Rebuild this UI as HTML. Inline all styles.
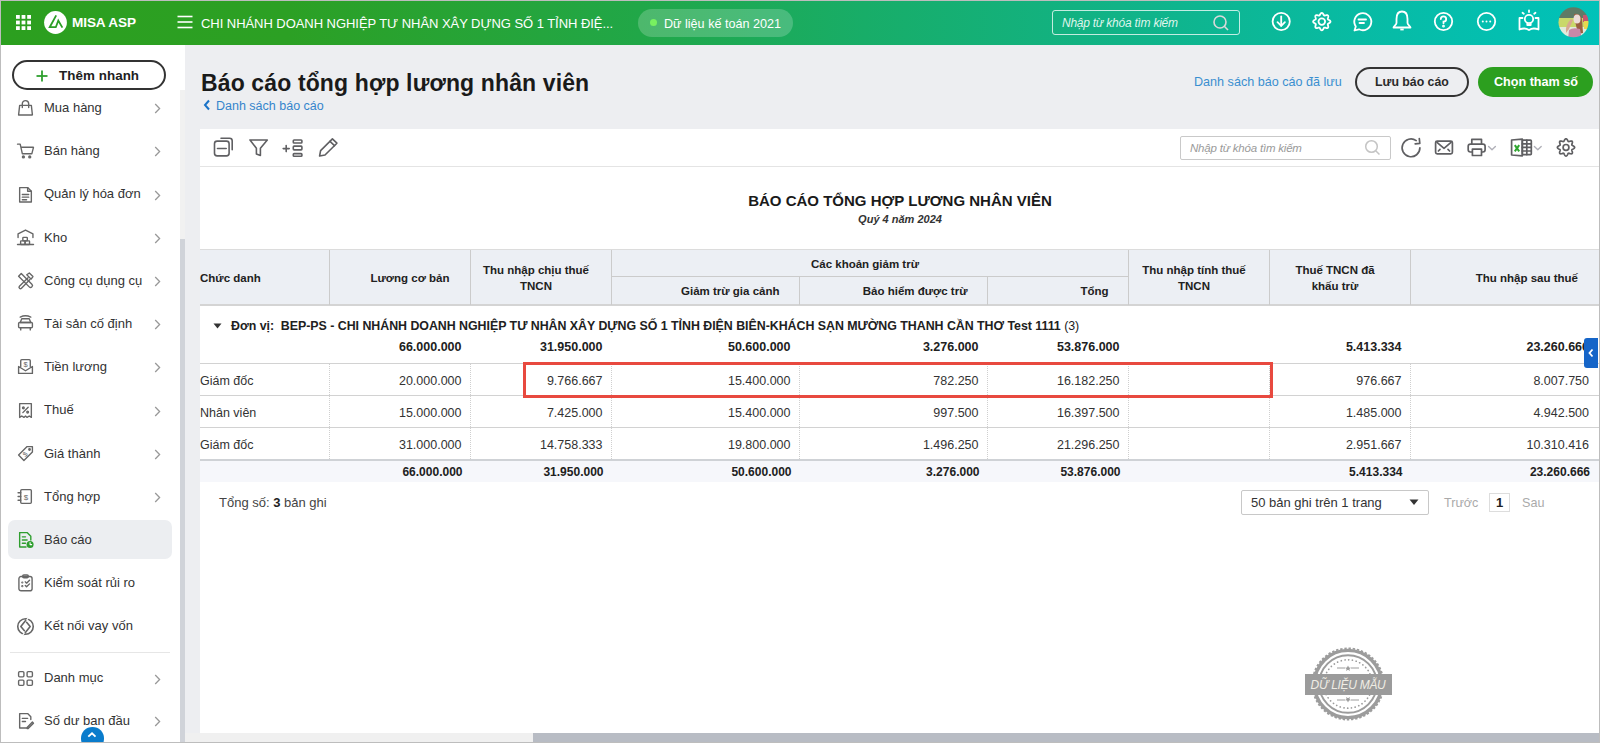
<!DOCTYPE html>
<html><head><meta charset="utf-8">
<style>
*{box-sizing:border-box;margin:0;padding:0}
html,body{width:1600px;height:743px;overflow:hidden;background:#fff;font-family:"Liberation Sans",sans-serif;color:#212121}
.a{position:absolute}
#frame{position:absolute;left:0;top:0;width:1600px;height:743px;overflow:hidden;background:#edeef1}
#bd{position:absolute;left:0;top:0;width:1600px;height:743px;border:1px solid #bdbdbd}
#frame>div,#frame>svg{overflow:visible}
#hdr{left:0;top:0;width:1600px;height:45px;background:linear-gradient(90deg,#2c9f1f 0%,#2ca024 18%,#21a748 40%,#18ad68 54%,#11b387 70%,#08bba4 85%,#00c2b9 100%)}
#side{left:0;top:45px;width:185px;height:698px;background:#fff}
.nt{white-space:nowrap}
svg{overflow:visible}
</style></head>
<body>
<div id="frame">
  <!-- HEADER -->
  <div id="hdr" class="a">
    <svg class="a" style="left:15px;top:14px" width="16" height="16" viewBox="0 0 16 16" fill="#fff">
      <rect x="1" y="1" width="3.8" height="3.8"/><rect x="6.6" y="1" width="3.8" height="3.8"/><rect x="12.2" y="1" width="3.8" height="3.8"/>
      <rect x="1" y="6.6" width="3.8" height="3.8"/><rect x="6.6" y="6.6" width="3.8" height="3.8"/><rect x="12.2" y="6.6" width="3.8" height="3.8"/>
      <rect x="1" y="12.2" width="3.8" height="3.8"/><rect x="6.6" y="12.2" width="3.8" height="3.8"/><rect x="12.2" y="12.2" width="3.8" height="3.8"/>
    </svg>
    <svg class="a" style="left:43px;top:10px" width="25" height="25" viewBox="0 0 25 25">
      <circle cx="12.5" cy="12.5" r="11.4" fill="#fff"/>
      <polyline points="13.2,5.4 6.7,17.2 12.8,17.2 15.3,10.6 19.4,17.6" fill="none" stroke="#2c9f26" stroke-width="1.8" stroke-linejoin="miter"/>
    </svg>
    <div class="a nt" style="left:72px;top:15px;font-size:13.6px;font-weight:bold;color:#fff;line-height:16px;letter-spacing:-0.1px">MISA ASP</div>
    <svg class="a" style="left:177px;top:15px" width="16" height="14" viewBox="0 0 16 14" stroke="#fff" stroke-width="1.6">
      <line x1="0.5" y1="1.5" x2="15.5" y2="1.5"/><line x1="0.5" y1="7" x2="15.5" y2="7"/><line x1="0.5" y1="12.5" x2="15.5" y2="12.5"/>
    </svg>
    <div class="a nt" style="left:201px;top:16px;font-size:13px;color:#fff;line-height:16px;letter-spacing:-0.05px">CHI NHÁNH DOANH NGHIỆP TƯ NHÂN XÂY DỰNG SỐ 1 TỈNH ĐIỆ...</div>
    <div class="a" style="left:638px;top:9px;width:155px;height:28px;border-radius:14px;background:rgba(255,255,255,0.2)"></div>
    <div class="a" style="left:649.5px;top:18.6px;width:7.6px;height:7.6px;border-radius:50%;background:#78f060"></div>
    <div class="a nt" style="left:664px;top:15.7px;font-size:12.6px;color:#fff;line-height:16px">Dữ liệu kế toán 2021</div>
    <div class="a" style="left:1052px;top:10px;width:188px;height:25px;border:1px solid rgba(255,255,255,0.75);border-radius:3px"></div>
    <div class="a nt" style="left:1062px;top:15px;font-size:12px;font-style:italic;color:#dff5ec;line-height:16px;letter-spacing:-0.25px">Nhập từ khóa tìm kiếm</div>
    <svg class="a" style="left:1212px;top:14px" width="18" height="18" viewBox="0 0 18 18" fill="none" stroke="#d9d9d9" stroke-width="1.6">
      <circle cx="8" cy="8" r="6"/><line x1="12.3" y1="12.3" x2="16" y2="16"/>
    </svg>
    <!-- icons -->
    <svg class="a" style="left:1271px;top:11px" width="21" height="21" viewBox="0 0 21 21" fill="none" stroke="#fff" stroke-width="1.8" stroke-linecap="round" stroke-linejoin="round">
      <circle cx="10.2" cy="10.5" r="8.6"/><line x1="10.2" y1="5.5" x2="10.2" y2="14.8"/><polyline points="6.5,11.2 10.2,14.8 13.9,11.2"/>
    </svg>
    <svg class="a" style="left:1311px;top:11px" width="22" height="22" viewBox="0 0 22 22" fill="none" stroke="#fff" stroke-width="1.8" stroke-linejoin="round">
      <path d="M19.50,10.60 L19.39,11.05 L19.09,11.47 L18.64,11.84 L18.12,12.16 L17.61,12.42 L17.18,12.67 L16.89,12.94 L16.76,13.25 L16.78,13.65 L16.91,14.12 L17.08,14.68 L17.22,15.27 L17.28,15.85 L17.19,16.36 L16.95,16.75 L16.56,16.99 L16.05,17.08 L15.47,17.02 L14.88,16.88 L14.33,16.71 L13.85,16.58 L13.45,16.56 L13.14,16.69 L12.87,16.98 L12.62,17.41 L12.36,17.92 L12.04,18.44 L11.67,18.89 L11.25,19.19 L10.80,19.30 L10.35,19.19 L9.93,18.89 L9.56,18.44 L9.24,17.92 L8.98,17.41 L8.73,16.98 L8.46,16.69 L8.15,16.56 L7.75,16.58 L7.28,16.71 L6.72,16.88 L6.13,17.02 L5.55,17.08 L5.04,16.99 L4.65,16.75 L4.41,16.36 L4.32,15.85 L4.38,15.27 L4.52,14.68 L4.69,14.12 L4.82,13.65 L4.84,13.25 L4.71,12.94 L4.42,12.67 L3.99,12.42 L3.48,12.16 L2.96,11.84 L2.51,11.47 L2.21,11.05 L2.10,10.60 L2.21,10.15 L2.51,9.73 L2.96,9.36 L3.48,9.04 L3.99,8.78 L4.42,8.53 L4.71,8.26 L4.84,7.95 L4.82,7.55 L4.69,7.08 L4.52,6.52 L4.38,5.93 L4.32,5.35 L4.41,4.84 L4.65,4.45 L5.04,4.21 L5.55,4.12 L6.13,4.18 L6.72,4.32 L7.27,4.49 L7.75,4.62 L8.15,4.64 L8.46,4.51 L8.73,4.22 L8.98,3.79 L9.24,3.28 L9.56,2.76 L9.93,2.31 L10.35,2.01 L10.80,1.90 L11.25,2.01 L11.67,2.31 L12.04,2.76 L12.36,3.28 L12.62,3.79 L12.87,4.22 L13.14,4.51 L13.45,4.64 L13.85,4.62 L14.33,4.49 L14.88,4.32 L15.47,4.18 L16.05,4.12 L16.56,4.21 L16.95,4.45 L17.19,4.84 L17.28,5.35 L17.22,5.93 L17.08,6.52 L16.91,7.08 L16.78,7.55 L16.76,7.95 L16.89,8.26 L17.18,8.53 L17.61,8.78 L18.12,9.04 L18.64,9.36 L19.09,9.73 L19.39,10.15 Z"/>
      <circle cx="10.8" cy="10.6" r="3.3"/>
    </svg>
    <svg class="a" style="left:1352px;top:11px" width="21" height="22" viewBox="0 0 21 22" fill="none" stroke="#fff" stroke-width="1.8" stroke-linecap="round" stroke-linejoin="round">
      <path d="M2.5 19.5 L3.8 15.5 A8.5 8.5 0 1 1 7 18.3 Z"/><line x1="6.5" y1="8.5" x2="14" y2="8.5"/><line x1="7.5" y1="12" x2="12" y2="12"/>
    </svg>
    <svg class="a" style="left:1392px;top:10px" width="20" height="22" viewBox="0 0 20 22" fill="none" stroke="#fff" stroke-width="1.8" stroke-linejoin="round">
      <path d="M10 1.5 C5.5 1.5 4.5 5.5 4.5 9 L4.5 13 C4.5 15 1.5 16 1.5 17.5 L18.5 17.5 C18.5 16 15.5 15 15.5 13 L15.5 9 C15.5 5.5 14.5 1.5 10 1.5 Z"/><path d="M8.3 19.5 L11.7 19.5"/>
    </svg>
    <svg class="a" style="left:1433px;top:11px" width="21" height="21" viewBox="0 0 21 21" fill="none" stroke="#fff" stroke-width="1.8" stroke-linecap="round">
      <circle cx="10.5" cy="10.5" r="8.7"/><path d="M7.8 8 A2.7 2.7 0 1 1 10.5 10.7 L10.5 12.3"/><circle cx="10.5" cy="15.2" r="0.5" fill="#fff"/>
    </svg>
    <svg class="a" style="left:1476px;top:11px" width="21" height="21" viewBox="0 0 21 21" fill="none" stroke="#fff" stroke-width="1.8">
      <circle cx="10.5" cy="10.5" r="8.7"/><circle cx="6.8" cy="10.5" r="1" fill="#fff" stroke="none"/><circle cx="10.5" cy="10.5" r="1" fill="#fff" stroke="none"/><circle cx="14.2" cy="10.5" r="1" fill="#fff" stroke="none"/>
    </svg>
    <svg class="a" style="left:1518px;top:9px" width="22" height="24" viewBox="0 0 22 24" fill="none" stroke="#fff" stroke-width="1.8" stroke-linecap="round" stroke-linejoin="round">
      <path d="M4.5 9 L1.5 9 L1.5 20.5 C5 19 8 19 11 21 C14 19 17 19 20.5 20.5 L20.5 9 L17.5 9"/>
      <circle cx="11" cy="10" r="4.2"/><path d="M9.3 14 L9.3 16 L12.7 16 L12.7 14"/>
      <line x1="11" y1="1.5" x2="11" y2="3"/><line x1="4.5" y1="3.8" x2="5.8" y2="4.8"/><line x1="17.5" y1="3.8" x2="16.2" y2="4.8"/>
    </svg>
    <svg class="a" style="left:1558px;top:7px" width="31" height="31" viewBox="0 0 31 31">
      <defs><clipPath id="av"><circle cx="15.5" cy="15.3" r="15"/></clipPath><filter id="bl"><feGaussianBlur stdDeviation="0.7"/></filter></defs>
      <g clip-path="url(#av)"><g filter="url(#bl)">
        <rect x="-2" y="-2" width="35" height="35" fill="#e6ece0"/>
        <rect x="-2" y="-2" width="35" height="14" fill="#5f7a66"/>
        <rect x="-2" y="11" width="35" height="11" fill="#c9d86a"/>
        <rect x="-2" y="20" width="35" height="13" fill="#e2eadc"/>
        <rect x="25" y="8" width="6" height="7" fill="#c4566e"/>
        <rect x="26" y="14" width="8" height="8" fill="#e8d850"/>
        <path d="M16 7 Q22 6 24 12 L25 26 L20 27 L17 14 Z" fill="#9a6040"/>
        <ellipse cx="19" cy="12" rx="3.5" ry="4.5" fill="#ecdcd8"/>
        <path d="M8 26 Q7 18 13 12 L15 13 L11 22 Z" fill="#d8a890"/>
        <path d="M11 23 Q15 20 22 22 L24 33 L10 33 Z" fill="#c888a8"/>
      </g></g>
    </svg>
  </div>
  <!-- SIDEBAR -->
  <div id="side" class="a">
    <div class="a" style="left:12px;top:15px;width:154px;height:30px;border:2px solid #333;border-radius:15px"></div>
    <svg class="a" style="left:36px;top:25px" width="12" height="12" viewBox="0 0 12 12" stroke="#2ea02e" stroke-width="1.8"><line x1="6" y1="0.5" x2="6" y2="11.5"/><line x1="0.5" y1="6" x2="11.5" y2="6"/></svg>
    <div class="a nt" style="left:59px;top:23px;font-size:13.4px;font-weight:bold;color:#212121;line-height:16px;letter-spacing:0.05px">Thêm nhanh</div>
    <div class="a" style="left:180px;top:45px;width:5px;height:653px;background:#f1f1f1"></div>
    <div class="a" style="left:180px;top:194px;width:5px;height:504px;background:#d0d3d9"></div>
    <svg class="a" style="left:17px;top:54.2px" width="17" height="17" viewBox="0 0 16 16" fill="none" stroke="#666" stroke-width="1.3" stroke-linecap="round" stroke-linejoin="round"><path d="M2.5 6 L13.5 6 L14.5 15 L1.5 15 Z"/><path d="M5 8 L5 4.5 A3 3 0 0 1 11 4.5 L11 8"/></svg>
    <div class="a nt" style="left:44px;top:55.0px;font-size:13px;color:#333;line-height:16px">Mua hàng</div>
    <svg class="a" style="left:153px;top:58.2px" width="8" height="11" viewBox="0 0 8 11" fill="none" stroke="#999" stroke-width="1.3"><polyline points="2.2,1 6.6,5.5 2.2,10"/></svg>
    <svg class="a" style="left:17px;top:97.4px" width="17" height="17" viewBox="0 0 16 16" fill="none" stroke="#666" stroke-width="1.3" stroke-linecap="round" stroke-linejoin="round"><path d="M0.5 2 L3 2 L5 11 L14 11 L15.5 5 L4 5"/><circle cx="6" cy="14" r="0.9" fill="#666"/><circle cx="12" cy="14" r="0.9" fill="#666"/></svg>
    <div class="a nt" style="left:44px;top:98.2px;font-size:13px;color:#333;line-height:16px">Bán hàng</div>
    <svg class="a" style="left:153px;top:101.4px" width="8" height="11" viewBox="0 0 8 11" fill="none" stroke="#999" stroke-width="1.3"><polyline points="2.2,1 6.6,5.5 2.2,10"/></svg>
    <svg class="a" style="left:17px;top:140.6px" width="17" height="17" viewBox="0 0 16 16" fill="none" stroke="#666" stroke-width="1.3" stroke-linecap="round" stroke-linejoin="round"><path d="M2.5 1.5 L10 1.5 L13.5 5 L13.5 15 L2.5 15 Z"/><path d="M10 1.5 L10 5 L13.5 5"/><line x1="5" y1="8" x2="11" y2="8"/><line x1="5" y1="10.5" x2="11" y2="10.5"/><line x1="5" y1="13" x2="9" y2="13"/></svg>
    <div class="a nt" style="left:44px;top:141.4px;font-size:13px;color:#333;line-height:16px">Quản lý hóa đơn</div>
    <svg class="a" style="left:153px;top:144.6px" width="8" height="11" viewBox="0 0 8 11" fill="none" stroke="#999" stroke-width="1.3"><polyline points="2.2,1 6.6,5.5 2.2,10"/></svg>
    <svg class="a" style="left:17px;top:183.8px" width="17" height="17" viewBox="0 0 16 16" fill="none" stroke="#666" stroke-width="1.3" stroke-linecap="round" stroke-linejoin="round"><path d="M1 8 L1 4.5 L8 1 L15 4.5 L15 8"/><line x1="0.5" y1="14.6" x2="15.5" y2="14.6"/><rect x="3.4" y="11.2" width="4.2" height="3.4" rx="0.5"/><rect x="7.6" y="11.2" width="4.2" height="3.4" rx="0.5"/><rect x="5.5" y="7.9" width="4.2" height="3.3" rx="0.5"/></svg>
    <div class="a nt" style="left:44px;top:184.6px;font-size:13px;color:#333;line-height:16px">Kho</div>
    <svg class="a" style="left:153px;top:187.8px" width="8" height="11" viewBox="0 0 8 11" fill="none" stroke="#999" stroke-width="1.3"><polyline points="2.2,1 6.6,5.5 2.2,10"/></svg>
    <svg class="a" style="left:17px;top:227.0px" width="17" height="17" viewBox="0 0 16 16" fill="none" stroke="#666" stroke-width="1.3" stroke-linecap="round" stroke-linejoin="round"><path d="M1.5 4 L4 1.5 L14 11.5 A1.7 1.7 0 0 1 11.5 14 Z"/><path d="M9.2 2.6 L11.6 0.9 L15 4.3 L13.3 6.7 Z"/><path d="M10.4 5.4 L2.3 13.4 A1.3 1.3 0 0 0 4.2 15.2 L12.2 7.1"/></svg>
    <div class="a nt" style="left:44px;top:227.8px;font-size:13px;color:#333;line-height:16px">Công cụ dụng cụ</div>
    <svg class="a" style="left:153px;top:231.0px" width="8" height="11" viewBox="0 0 8 11" fill="none" stroke="#999" stroke-width="1.3"><polyline points="2.2,1 6.6,5.5 2.2,10"/></svg>
    <svg class="a" style="left:17px;top:270.2px" width="17" height="17" viewBox="0 0 16 16" fill="none" stroke="#666" stroke-width="1.3" stroke-linecap="round" stroke-linejoin="round"><path d="M3 7 L4.5 3.5 L11.5 3.5 L13 7 Z"/><rect x="1.5" y="7" width="13" height="5" rx="1"/><line x1="3.5" y1="12" x2="3.5" y2="14"/><line x1="12.5" y1="12" x2="12.5" y2="14"/><path d="M3 2 Q8 -0.5 13 2"/></svg>
    <div class="a nt" style="left:44px;top:271.0px;font-size:13px;color:#333;line-height:16px">Tài sản cố định</div>
    <svg class="a" style="left:153px;top:274.2px" width="8" height="11" viewBox="0 0 8 11" fill="none" stroke="#999" stroke-width="1.3"><polyline points="2.2,1 6.6,5.5 2.2,10"/></svg>
    <svg class="a" style="left:17px;top:313.4px" width="17" height="17" viewBox="0 0 16 16" fill="none" stroke="#666" stroke-width="1.3" stroke-linecap="round" stroke-linejoin="round"><path d="M3.5 8 L3.5 2.5 A1 1 0 0 1 4.5 1.5 L11.5 1.5 A1 1 0 0 1 12.5 2.5 L12.5 8"/><path d="M1.5 8 L1.5 14.5 L14.5 14.5 L14.5 8 L8 12 Z"/><text x="8" y="8.2" font-size="7" font-family="Liberation Sans" text-anchor="middle" fill="#666" stroke="none">$</text></svg>
    <div class="a nt" style="left:44px;top:314.2px;font-size:13px;color:#333;line-height:16px">Tiền lương</div>
    <svg class="a" style="left:153px;top:317.4px" width="8" height="11" viewBox="0 0 8 11" fill="none" stroke="#999" stroke-width="1.3"><polyline points="2.2,1 6.6,5.5 2.2,10"/></svg>
    <svg class="a" style="left:17px;top:356.6px" width="17" height="17" viewBox="0 0 16 16" fill="none" stroke="#666" stroke-width="1.3" stroke-linecap="round" stroke-linejoin="round"><path d="M2.5 1.5 L13.5 1.5 L13.5 14.5 L11.5 13.2 L9.5 14.5 L8 13.2 L6.5 14.5 L4.5 13.2 L2.5 14.5 Z"/><line x1="5.5" y1="10" x2="10.5" y2="5"/><circle cx="6" cy="5.5" r="0.8"/><circle cx="10" cy="9.5" r="0.8"/></svg>
    <div class="a nt" style="left:44px;top:357.4px;font-size:13px;color:#333;line-height:16px">Thuế</div>
    <svg class="a" style="left:153px;top:360.6px" width="8" height="11" viewBox="0 0 8 11" fill="none" stroke="#999" stroke-width="1.3"><polyline points="2.2,1 6.6,5.5 2.2,10"/></svg>
    <svg class="a" style="left:17px;top:399.8px" width="17" height="17" viewBox="0 0 16 16" fill="none" stroke="#666" stroke-width="1.3" stroke-linecap="round" stroke-linejoin="round"><path d="M9.5 1.5 L14.5 1.5 L14.5 6.5 L6.5 14.5 L1.5 9.5 Z"/><circle cx="11.8" cy="4.2" r="0.7"/><text x="7.8" y="11" font-size="6.5" font-family="Liberation Sans" text-anchor="middle" fill="#666" stroke="none" transform="rotate(-45 7.8 8.8)">$</text></svg>
    <div class="a nt" style="left:44px;top:400.6px;font-size:13px;color:#333;line-height:16px">Giá thành</div>
    <svg class="a" style="left:153px;top:403.8px" width="8" height="11" viewBox="0 0 8 11" fill="none" stroke="#999" stroke-width="1.3"><polyline points="2.2,1 6.6,5.5 2.2,10"/></svg>
    <svg class="a" style="left:17px;top:443.0px" width="17" height="17" viewBox="0 0 16 16" fill="none" stroke="#666" stroke-width="1.3" stroke-linecap="round" stroke-linejoin="round"><rect x="3.5" y="1.5" width="10" height="13" rx="1"/><line x1="1" y1="4.5" x2="3.5" y2="4.5"/><line x1="1" y1="8" x2="3.5" y2="8"/><line x1="1" y1="11.5" x2="3.5" y2="11.5"/><text x="8.5" y="11" font-size="7.5" text-anchor="middle" fill="#666" stroke="none">$</text></svg>
    <div class="a nt" style="left:44px;top:443.8px;font-size:13px;color:#333;line-height:16px">Tổng hợp</div>
    <svg class="a" style="left:153px;top:447.0px" width="8" height="11" viewBox="0 0 8 11" fill="none" stroke="#999" stroke-width="1.3"><polyline points="2.2,1 6.6,5.5 2.2,10"/></svg>
    <div class="a" style="left:8px;top:475px;width:164px;height:39px;border-radius:7px;background:#eceef1"></div>
    <svg class="a" style="left:17px;top:486.2px" width="17" height="17" viewBox="0 0 16 16" fill="none" stroke="#666" stroke-width="1.3" stroke-linecap="round" stroke-linejoin="round"><path d="M2.5 1.5 L9.5 1.5 L13 5 L13 8.5" stroke="#2e9e2e"/><path d="M8.5 15 L2.5 15 L2.5 1.5" stroke="#2e9e2e"/><line x1="5" y1="5.5" x2="8" y2="5.5" stroke="#2e9e2e"/><line x1="5" y1="8.5" x2="9.5" y2="8.5" stroke="#2e9e2e"/><line x1="5" y1="11.5" x2="8" y2="11.5" stroke="#2e9e2e"/><circle cx="12.3" cy="12.6" r="3.3" fill="#2e9e2e" stroke="none"/><path d="M12.3 10.8 L12.3 12.8 L13.8 12.8" stroke="#fff" stroke-width="1"/></svg>
    <div class="a nt" style="left:44px;top:487.0px;font-size:13px;color:#333;line-height:16px">Báo cáo</div>
    <svg class="a" style="left:17px;top:529.4px" width="17" height="17" viewBox="0 0 16 16" fill="none" stroke="#666" stroke-width="1.3" stroke-linecap="round" stroke-linejoin="round"><rect x="1.8" y="2.4" width="12.4" height="13.4" rx="2"/><rect x="5.3" y="0.9" width="5.4" height="2.6" rx="1.2"/><path d="M7.8 7.4 L9 8.6 L11.8 5.8 M7.8 10.9 L9 12.1 L11.8 9.3"/><circle cx="5" cy="8" r="0.4"/><circle cx="5" cy="11.5" r="0.4"/></svg>
    <div class="a nt" style="left:44px;top:530.2px;font-size:13px;color:#333;line-height:16px">Kiểm soát rủi ro</div>
    <svg class="a" style="left:17px;top:572.6px" width="17" height="17" viewBox="0 0 16 16" fill="none" stroke="#666" stroke-width="1.3" stroke-linecap="round" stroke-linejoin="round"><circle cx="8" cy="8" r="7.3" stroke-width="1.5"/><path d="M9.6 0.5 L3.6 8 L7 12" stroke-width="1.5"/><path d="M9 4 L12.4 8 L6.4 15.5" stroke-width="1.5"/><path d="M9.2 1.8 L10.8 -0.4 M6.8 14.2 L5.2 16.4" stroke="#fff" stroke-width="1.2"/></svg>
    <div class="a nt" style="left:44px;top:573.4px;font-size:13px;color:#333;line-height:16px">Kết nối vay vốn</div>
    <svg class="a" style="left:17px;top:624.5px" width="17" height="17" viewBox="0 0 16 16" fill="none" stroke="#666" stroke-width="1.3" stroke-linecap="round" stroke-linejoin="round"><rect x="1.5" y="1.5" width="5" height="5" rx="1"/><rect x="9.5" y="1.5" width="5" height="5" rx="1"/><rect x="1.5" y="9.5" width="5" height="5" rx="1"/><rect x="9.5" y="9.5" width="5" height="5" rx="1"/></svg>
    <div class="a nt" style="left:44px;top:625.3px;font-size:13px;color:#333;line-height:16px">Danh mục</div>
    <svg class="a" style="left:153px;top:628.5px" width="8" height="11" viewBox="0 0 8 11" fill="none" stroke="#999" stroke-width="1.3"><polyline points="2.2,1 6.6,5.5 2.2,10"/></svg>
    <svg class="a" style="left:17px;top:667.2px" width="17" height="17" viewBox="0 0 16 16" fill="none" stroke="#666" stroke-width="1.3" stroke-linecap="round" stroke-linejoin="round"><path d="M9 15 L2.5 15 L2.5 1.5 L10 1.5 L13 4.5 L13 7"/><line x1="5" y1="6" x2="10" y2="6"/><line x1="5" y1="9" x2="8" y2="9"/><path d="M9.5 14.5 L14.5 9.5 L15.5 10.5 L10.5 15.5 L9.5 15.5 Z"/></svg>
    <div class="a nt" style="left:44px;top:668.0px;font-size:13px;color:#333;line-height:16px">Số dư ban đầu</div>
    <svg class="a" style="left:153px;top:671.2px" width="8" height="11" viewBox="0 0 8 11" fill="none" stroke="#999" stroke-width="1.3"><polyline points="2.2,1 6.6,5.5 2.2,10"/></svg>
    <div class="a" style="left:10px;top:607px;width:160px;height:1px;background:#e6e6e6"></div>
    <div class="a" style="left:81px;top:682px;width:22.6px;height:22.6px;border-radius:50%;background:#0a7ccc"></div>
    <svg class="a" style="left:86px;top:686px" width="12" height="8" viewBox="0 0 12 8" fill="none" stroke="#fff" stroke-width="1.9"><polyline points="2.3,5.6 6,2.3 9.5,5.6"/></svg>
  </div>
  <!-- MAIN -->
  <div class="a nt" style="left:201px;top:68.5px;font-size:23px;font-weight:bold;color:#1a1a1a;line-height:28px;letter-spacing:0.13px">Báo cáo tổng hợp lương nhân viên</div>
  <svg class="a" style="left:203px;top:99.3px" width="8" height="12" viewBox="0 0 8 12" fill="none" stroke="#1a73c8" stroke-width="2"><polyline points="6,1.5 2,6 6,10.5"/></svg>
  <div class="a nt" style="left:216px;top:98px;font-size:12.5px;color:#3585cc;line-height:16px">Danh sách báo cáo</div>
  <div class="a nt" style="left:1194px;top:74px;font-size:12.6px;color:#3a8fd0;line-height:16px">Danh sách báo cáo đã lưu</div>
  <div class="a" style="left:1355px;top:67px;width:114px;height:30px;border:2px solid #333;border-radius:15px"></div>
  <div class="a nt" style="left:1375px;top:74px;font-size:12.3px;font-weight:bold;color:#2a2a2a;line-height:16px">Lưu báo cáo</div>
  <div class="a" style="left:1478px;top:67px;width:115px;height:30px;border-radius:15px;background:#2c9f1f"></div>
  <div class="a nt" style="left:1494px;top:74px;font-size:12.6px;font-weight:bold;color:#fff;line-height:16px">Chọn tham số</div>
  <div class="a" style="left:200px;top:129px;width:1399px;height:604px;background:#fff"></div>
  <div class="a" style="left:200px;top:166px;width:1399px;height:1px;background:#e4e4e4"></div>
  <svg class="a" style="left:205px;top:130px" width="140" height="35" viewBox="0 0 140 35" fill="none" stroke="#5f5f62" stroke-width="1.6" stroke-linejoin="round" stroke-linecap="round">
    <rect x="9.5" y="11.1" width="14.6" height="14.8" rx="2.6"/><path d="M16 8.2 L24.6 8.2 A2.6 2.6 0 0 1 27.2 10.8 L27.2 19.8"/><line x1="12.5" y1="18.5" x2="21.2" y2="18.5"/>
    <path d="M45 10 L62.3 10 L55.4 18.2 L55.4 25.5 L51.4 24 L51.4 18.2 Z"/>
    <line x1="78.2" y1="18.6" x2="84.2" y2="18.6"/><line x1="81.2" y1="15.6" x2="81.2" y2="21.6"/>
    <rect x="88.3" y="10" width="8.6" height="3" rx="0.8"/><rect x="88.3" y="16.1" width="8.6" height="3.8" rx="0.8"/><rect x="88.3" y="23.6" width="8.6" height="2.6" rx="0.8"/>
    <path d="M114.6 26 L115.6 20.6 L127.4 8.9 L131.9 13.2 L120 25 Z"/><line x1="125" y1="11.3" x2="129.5" y2="15.6"/>
  </svg>
  <div class="a" style="left:1180px;top:136px;width:211px;height:24px;border:1px solid #c9c9c9;border-radius:2px"></div>
  <div class="a nt" style="left:1190px;top:140px;font-size:11.5px;font-style:italic;color:#9a9a9a;line-height:16px;letter-spacing:-0.2px">Nhập từ khóa tìm kiếm</div>
  <svg class="a" style="left:1364px;top:139px" width="18" height="18" viewBox="0 0 18 18" fill="none" stroke="#c4c4c4" stroke-width="1.5"><circle cx="7.5" cy="7.5" r="5.8"/><line x1="11.7" y1="11.7" x2="15.5" y2="15.5"/></svg>
  <svg class="a" style="left:1395px;top:132px" width="190" height="32" viewBox="0 0 190 32" fill="none" stroke="#5f5f62" stroke-width="1.7" stroke-linejoin="round" stroke-linecap="round">
    <path d="M24.9 15.8 A8.9 8.9 0 1 1 21.2 8.6"/><polyline points="24.3,6.6 24.8,11.3 20.2,11.9"/>
    <rect x="40.6" y="9.1" width="16.8" height="12.7" rx="1.6"/><polyline points="42,10.4 49,16.4 56,10.4"/><line x1="43.4" y1="19" x2="45" y2="17.4"/><line x1="54.6" y1="19" x2="53" y2="17.4"/>
    <path d="M76.8 11.5 L76.8 7.3 L86.5 7.3 L86.5 11.5"/><rect x="73.2" y="12.1" width="16.9" height="7.9" rx="2.2"/><rect x="77.4" y="17.2" width="9.1" height="6.3" fill="#fff"/>
    <polyline points="93.6,14.6 97,17.8 100.4,14.6" stroke="#b0b0b8" stroke-width="1.4"/>
    <path d="M116.6 8 L127.3 7.2 L127.3 23.8 L116.6 23 Z"/><rect x="127.3" y="8.2" width="9" height="14.4" rx="0.8"/><line x1="131.8" y1="8.2" x2="131.8" y2="22.6"/><line x1="127.3" y1="11.8" x2="136.3" y2="11.8"/><line x1="127.3" y1="15.4" x2="136.3" y2="15.4"/><line x1="127.3" y1="19" x2="136.3" y2="19"/>
    <path d="M119.8 13.2 L124.2 19.4 M124.2 13.2 L119.8 19.4" stroke="#2fa52f" stroke-width="2" stroke-linecap="butt"/>
    <polyline points="139.4,14.6 142.8,17.8 146.2,14.6" stroke="#b0b0b8" stroke-width="1.4"/>
    <path d="M179.65,15.40 L179.54,15.85 L179.22,16.26 L178.76,16.63 L178.22,16.93 L177.69,17.19 L177.25,17.43 L176.95,17.68 L176.82,17.99 L176.85,18.38 L177.00,18.86 L177.19,19.42 L177.36,20.02 L177.43,20.60 L177.35,21.12 L177.12,21.52 L176.72,21.75 L176.20,21.83 L175.62,21.76 L175.02,21.59 L174.46,21.40 L173.98,21.25 L173.59,21.22 L173.28,21.35 L173.03,21.65 L172.79,22.09 L172.53,22.62 L172.23,23.16 L171.86,23.62 L171.45,23.94 L171.00,24.05 L170.55,23.94 L170.14,23.62 L169.77,23.16 L169.47,22.62 L169.21,22.09 L168.97,21.65 L168.72,21.35 L168.41,21.22 L168.02,21.25 L167.54,21.40 L166.98,21.59 L166.38,21.76 L165.80,21.83 L165.28,21.75 L164.88,21.52 L164.65,21.12 L164.57,20.60 L164.64,20.02 L164.81,19.42 L165.00,18.86 L165.15,18.38 L165.18,17.99 L165.05,17.68 L164.75,17.43 L164.31,17.19 L163.78,16.93 L163.24,16.63 L162.78,16.26 L162.46,15.85 L162.35,15.40 L162.46,14.95 L162.78,14.54 L163.24,14.17 L163.78,13.87 L164.31,13.61 L164.75,13.37 L165.05,13.12 L165.18,12.81 L165.15,12.42 L165.00,11.94 L164.81,11.38 L164.64,10.78 L164.57,10.20 L164.65,9.68 L164.88,9.28 L165.28,9.05 L165.80,8.97 L166.38,9.04 L166.98,9.21 L167.54,9.40 L168.02,9.55 L168.41,9.58 L168.72,9.45 L168.97,9.15 L169.21,8.71 L169.47,8.18 L169.77,7.64 L170.14,7.18 L170.55,6.86 L171.00,6.75 L171.45,6.86 L171.86,7.18 L172.23,7.64 L172.53,8.18 L172.79,8.71 L173.03,9.15 L173.28,9.45 L173.59,9.58 L173.98,9.55 L174.46,9.40 L175.02,9.21 L175.62,9.04 L176.20,8.97 L176.72,9.05 L177.12,9.28 L177.35,9.68 L177.43,10.20 L177.36,10.78 L177.19,11.38 L177.00,11.94 L176.85,12.42 L176.82,12.81 L176.95,13.12 L177.25,13.37 L177.69,13.61 L178.22,13.87 L178.76,14.17 L179.22,14.54 L179.54,14.95 Z"/><circle cx="171" cy="15.4" r="2.9"/>
  </svg>
  <div class="a nt" style="left:200px;width:1400px;text-align:center;top:192px;font-size:15px;font-weight:bold;color:#1a1a1a;line-height:18px">BÁO CÁO TỔNG HỢP LƯƠNG NHÂN VIÊN</div>
  <div class="a nt" style="left:200px;width:1400px;text-align:center;top:212px;font-size:11px;font-weight:bold;font-style:italic;color:#333;line-height:14px">Quý 4 năm 2024</div>
  <div class="a" style="left:200px;top:249px;width:1399px;height:57px;background:#eceff4;border-top:1px solid #dcdcdc;border-bottom:2px solid #d4d4d4"></div>
  <div class="a" style="left:329.0px;top:250px;width:1px;height:55px;background:#cbcbcb"></div>
  <div class="a" style="left:470.0px;top:250px;width:1px;height:55px;background:#cbcbcb"></div>
  <div class="a" style="left:611.0px;top:250px;width:1px;height:55px;background:#cbcbcb"></div>
  <div class="a" style="left:1128.0px;top:250px;width:1px;height:55px;background:#cbcbcb"></div>
  <div class="a" style="left:1269.0px;top:250px;width:1px;height:55px;background:#cbcbcb"></div>
  <div class="a" style="left:1410.0px;top:250px;width:1px;height:55px;background:#cbcbcb"></div>
  <div class="a" style="left:799.0px;top:277px;width:1px;height:28px;background:#cbcbcb"></div>
  <div class="a" style="left:987.0px;top:277px;width:1px;height:28px;background:#cbcbcb"></div>
  <div class="a" style="left:611px;top:276px;width:517px;height:1px;background:#cbcbcb"></div>
  <div class="a" style="left:200.0px;width:129.5px;top:270px;text-align:left;padding-right:0px;font-size:11.5px;font-weight:bold;color:#212121;line-height:16px;"><span style="position:absolute;left:0">Chức danh</span></div>
  <div class="a" style="left:329.5px;width:141.0px;top:270px;text-align:center;padding-right:0px;font-size:11.5px;font-weight:bold;color:#212121;line-height:16px;padding-left:20px">Lương cơ bản</div>
  <div class="a" style="left:470.5px;width:141.0px;top:262px;text-align:center;padding-right:10px;font-size:11.5px;font-weight:bold;color:#212121;line-height:16px;">Thu nhập chịu thuế<br>TNCN</div>
  <div class="a" style="left:611.5px;width:517.0px;top:256px;text-align:center;padding-right:10px;font-size:11.5px;font-weight:bold;color:#212121;line-height:16px;">Các khoản giảm trừ</div>
  <div class="a" style="left:611.5px;width:188.0px;top:283px;text-align:right;padding-right:20px;font-size:11.5px;font-weight:bold;color:#212121;line-height:16px;">Giảm trừ gia cảnh</div>
  <div class="a" style="left:799.5px;width:188.0px;top:283px;text-align:right;padding-right:20px;font-size:11.5px;font-weight:bold;color:#212121;line-height:16px;">Bảo hiểm được trừ</div>
  <div class="a" style="left:987.5px;width:141.0px;top:283px;text-align:right;padding-right:20px;font-size:11.5px;font-weight:bold;color:#212121;line-height:16px;">Tổng</div>
  <div class="a" style="left:1128.5px;width:141.0px;top:262px;text-align:center;padding-right:10px;font-size:11.5px;font-weight:bold;color:#212121;line-height:16px;">Thu nhập tính thuế<br>TNCN</div>
  <div class="a" style="left:1269.5px;width:141.0px;top:262px;text-align:center;padding-right:10px;font-size:11.5px;font-weight:bold;color:#212121;line-height:16px;">Thuế TNCN đã<br>khấu trừ</div>
  <div class="a" style="left:1410.5px;width:187.5px;top:270px;text-align:right;padding-right:20px;font-size:11.5px;font-weight:bold;color:#212121;line-height:16px;">Thu nhập sau thuế</div>
  <svg class="a" style="left:212.5px;top:323px" width="9" height="6" viewBox="0 0 9 6" fill="#333"><path d="M0.5 0.5 L8.5 0.5 L4.5 5.5 Z"/></svg>
  <div class="a nt" style="left:231px;top:318px;font-size:12.4px;font-weight:bold;color:#212121;line-height:16px;letter-spacing:-0.03px">Đơn vị:&nbsp; BEP-PS - CHI NHÁNH DOANH NGHIỆP TƯ NHÂN XÂY DỰNG SỐ 1 TỈNH ĐIỆN BIÊN-KHÁCH SẠN MƯỜNG THANH CẦN THƠ Test 1111 <span style="font-weight:normal">(3)</span></div>
  <div class="a nt" style="left:329.5px;width:141.0px;top:339px;text-align:right;padding-right:9px;font-size:12.5px;font-weight:bold;color:#212121;line-height:16px">66.000.000</div>
  <div class="a nt" style="left:470.5px;width:141.0px;top:339px;text-align:right;padding-right:9px;font-size:12.5px;font-weight:bold;color:#212121;line-height:16px">31.950.000</div>
  <div class="a nt" style="left:611.5px;width:188.0px;top:339px;text-align:right;padding-right:9px;font-size:12.5px;font-weight:bold;color:#212121;line-height:16px">50.600.000</div>
  <div class="a nt" style="left:799.5px;width:188.0px;top:339px;text-align:right;padding-right:9px;font-size:12.5px;font-weight:bold;color:#212121;line-height:16px">3.276.000</div>
  <div class="a nt" style="left:987.5px;width:141.0px;top:339px;text-align:right;padding-right:9px;font-size:12.5px;font-weight:bold;color:#212121;line-height:16px">53.876.000</div>
  <div class="a nt" style="left:1269.5px;width:141.0px;top:339px;text-align:right;padding-right:9px;font-size:12.5px;font-weight:bold;color:#212121;line-height:16px">5.413.334</div>
  <div class="a nt" style="left:1410.5px;width:187.5px;top:339px;text-align:right;padding-right:9px;font-size:12.5px;font-weight:bold;color:#212121;line-height:16px">23.260.666</div>
  <div class="a" style="left:200px;top:363.0px;width:1399px;height:1px;background:#d2d2d2"></div>
  <div class="a" style="left:329.0px;top:364.0px;width:0;height:31px;border-left:1px dotted #cfcfcf"></div>
  <div class="a" style="left:470.0px;top:364.0px;width:0;height:31px;border-left:1px dotted #cfcfcf"></div>
  <div class="a" style="left:611.0px;top:364.0px;width:0;height:31px;border-left:1px dotted #cfcfcf"></div>
  <div class="a" style="left:799.0px;top:364.0px;width:0;height:31px;border-left:1px dotted #cfcfcf"></div>
  <div class="a" style="left:987.0px;top:364.0px;width:0;height:31px;border-left:1px dotted #cfcfcf"></div>
  <div class="a" style="left:1128.0px;top:364.0px;width:0;height:31px;border-left:1px dotted #cfcfcf"></div>
  <div class="a" style="left:1269.0px;top:364.0px;width:0;height:31px;border-left:1px dotted #cfcfcf"></div>
  <div class="a" style="left:1410.0px;top:364.0px;width:0;height:31px;border-left:1px dotted #cfcfcf"></div>
  <div class="a nt" style="left:200px;top:373.0px;font-size:12.5px;color:#333;line-height:16px">Giám đốc</div>
  <div class="a nt" style="left:329.5px;width:141.0px;top:373px;text-align:right;padding-right:9px;font-size:12.5px;font-weight:normal;color:#333;line-height:16px">20.000.000</div>
  <div class="a nt" style="left:470.5px;width:141.0px;top:373px;text-align:right;padding-right:9px;font-size:12.5px;font-weight:normal;color:#333;line-height:16px">9.766.667</div>
  <div class="a nt" style="left:611.5px;width:188.0px;top:373px;text-align:right;padding-right:9px;font-size:12.5px;font-weight:normal;color:#333;line-height:16px">15.400.000</div>
  <div class="a nt" style="left:799.5px;width:188.0px;top:373px;text-align:right;padding-right:9px;font-size:12.5px;font-weight:normal;color:#333;line-height:16px">782.250</div>
  <div class="a nt" style="left:987.5px;width:141.0px;top:373px;text-align:right;padding-right:9px;font-size:12.5px;font-weight:normal;color:#333;line-height:16px">16.182.250</div>
  <div class="a nt" style="left:1269.5px;width:141.0px;top:373px;text-align:right;padding-right:9px;font-size:12.5px;font-weight:normal;color:#333;line-height:16px">976.667</div>
  <div class="a nt" style="left:1410.5px;width:187.5px;top:373px;text-align:right;padding-right:9px;font-size:12.5px;font-weight:normal;color:#333;line-height:16px">8.007.750</div>
  <div class="a" style="left:200px;top:395.0px;width:1399px;height:1px;background:#d2d2d2"></div>
  <div class="a" style="left:329.0px;top:396.0px;width:0;height:31px;border-left:1px dotted #cfcfcf"></div>
  <div class="a" style="left:470.0px;top:396.0px;width:0;height:31px;border-left:1px dotted #cfcfcf"></div>
  <div class="a" style="left:611.0px;top:396.0px;width:0;height:31px;border-left:1px dotted #cfcfcf"></div>
  <div class="a" style="left:799.0px;top:396.0px;width:0;height:31px;border-left:1px dotted #cfcfcf"></div>
  <div class="a" style="left:987.0px;top:396.0px;width:0;height:31px;border-left:1px dotted #cfcfcf"></div>
  <div class="a" style="left:1128.0px;top:396.0px;width:0;height:31px;border-left:1px dotted #cfcfcf"></div>
  <div class="a" style="left:1269.0px;top:396.0px;width:0;height:31px;border-left:1px dotted #cfcfcf"></div>
  <div class="a" style="left:1410.0px;top:396.0px;width:0;height:31px;border-left:1px dotted #cfcfcf"></div>
  <div class="a nt" style="left:200px;top:405.0px;font-size:12.5px;color:#333;line-height:16px">Nhân viên</div>
  <div class="a nt" style="left:329.5px;width:141.0px;top:405px;text-align:right;padding-right:9px;font-size:12.5px;font-weight:normal;color:#333;line-height:16px">15.000.000</div>
  <div class="a nt" style="left:470.5px;width:141.0px;top:405px;text-align:right;padding-right:9px;font-size:12.5px;font-weight:normal;color:#333;line-height:16px">7.425.000</div>
  <div class="a nt" style="left:611.5px;width:188.0px;top:405px;text-align:right;padding-right:9px;font-size:12.5px;font-weight:normal;color:#333;line-height:16px">15.400.000</div>
  <div class="a nt" style="left:799.5px;width:188.0px;top:405px;text-align:right;padding-right:9px;font-size:12.5px;font-weight:normal;color:#333;line-height:16px">997.500</div>
  <div class="a nt" style="left:987.5px;width:141.0px;top:405px;text-align:right;padding-right:9px;font-size:12.5px;font-weight:normal;color:#333;line-height:16px">16.397.500</div>
  <div class="a nt" style="left:1269.5px;width:141.0px;top:405px;text-align:right;padding-right:9px;font-size:12.5px;font-weight:normal;color:#333;line-height:16px">1.485.000</div>
  <div class="a nt" style="left:1410.5px;width:187.5px;top:405px;text-align:right;padding-right:9px;font-size:12.5px;font-weight:normal;color:#333;line-height:16px">4.942.500</div>
  <div class="a" style="left:200px;top:427.0px;width:1399px;height:1px;background:#d2d2d2"></div>
  <div class="a" style="left:329.0px;top:428.0px;width:0;height:31px;border-left:1px dotted #cfcfcf"></div>
  <div class="a" style="left:470.0px;top:428.0px;width:0;height:31px;border-left:1px dotted #cfcfcf"></div>
  <div class="a" style="left:611.0px;top:428.0px;width:0;height:31px;border-left:1px dotted #cfcfcf"></div>
  <div class="a" style="left:799.0px;top:428.0px;width:0;height:31px;border-left:1px dotted #cfcfcf"></div>
  <div class="a" style="left:987.0px;top:428.0px;width:0;height:31px;border-left:1px dotted #cfcfcf"></div>
  <div class="a" style="left:1128.0px;top:428.0px;width:0;height:31px;border-left:1px dotted #cfcfcf"></div>
  <div class="a" style="left:1269.0px;top:428.0px;width:0;height:31px;border-left:1px dotted #cfcfcf"></div>
  <div class="a" style="left:1410.0px;top:428.0px;width:0;height:31px;border-left:1px dotted #cfcfcf"></div>
  <div class="a nt" style="left:200px;top:437.0px;font-size:12.5px;color:#333;line-height:16px">Giám đốc</div>
  <div class="a nt" style="left:329.5px;width:141.0px;top:437px;text-align:right;padding-right:9px;font-size:12.5px;font-weight:normal;color:#333;line-height:16px">31.000.000</div>
  <div class="a nt" style="left:470.5px;width:141.0px;top:437px;text-align:right;padding-right:9px;font-size:12.5px;font-weight:normal;color:#333;line-height:16px">14.758.333</div>
  <div class="a nt" style="left:611.5px;width:188.0px;top:437px;text-align:right;padding-right:9px;font-size:12.5px;font-weight:normal;color:#333;line-height:16px">19.800.000</div>
  <div class="a nt" style="left:799.5px;width:188.0px;top:437px;text-align:right;padding-right:9px;font-size:12.5px;font-weight:normal;color:#333;line-height:16px">1.496.250</div>
  <div class="a nt" style="left:987.5px;width:141.0px;top:437px;text-align:right;padding-right:9px;font-size:12.5px;font-weight:normal;color:#333;line-height:16px">21.296.250</div>
  <div class="a nt" style="left:1269.5px;width:141.0px;top:437px;text-align:right;padding-right:9px;font-size:12.5px;font-weight:normal;color:#333;line-height:16px">2.951.667</div>
  <div class="a nt" style="left:1410.5px;width:187.5px;top:437px;text-align:right;padding-right:9px;font-size:12.5px;font-weight:normal;color:#333;line-height:16px">10.310.416</div>
  <div class="a" style="left:200px;top:459px;width:1399px;height:2px;background:#cfd2d6"></div>
  <div class="a" style="left:200px;top:461px;width:1399px;height:21px;background:#f6f7fb"></div>
  <div class="a nt" style="left:329.5px;width:141.0px;top:464px;text-align:right;padding-right:8px;font-size:12px;font-weight:bold;color:#212121;line-height:16px">66.000.000</div>
  <div class="a nt" style="left:470.5px;width:141.0px;top:464px;text-align:right;padding-right:8px;font-size:12px;font-weight:bold;color:#212121;line-height:16px">31.950.000</div>
  <div class="a nt" style="left:611.5px;width:188.0px;top:464px;text-align:right;padding-right:8px;font-size:12px;font-weight:bold;color:#212121;line-height:16px">50.600.000</div>
  <div class="a nt" style="left:799.5px;width:188.0px;top:464px;text-align:right;padding-right:8px;font-size:12px;font-weight:bold;color:#212121;line-height:16px">3.276.000</div>
  <div class="a nt" style="left:987.5px;width:141.0px;top:464px;text-align:right;padding-right:8px;font-size:12px;font-weight:bold;color:#212121;line-height:16px">53.876.000</div>
  <div class="a nt" style="left:1269.5px;width:141.0px;top:464px;text-align:right;padding-right:8px;font-size:12px;font-weight:bold;color:#212121;line-height:16px">5.413.334</div>
  <div class="a nt" style="left:1410.5px;width:187.5px;top:464px;text-align:right;padding-right:8px;font-size:12px;font-weight:bold;color:#212121;line-height:16px">23.260.666</div>
  <div class="a" style="left:523px;top:362px;width:750px;height:36px;border:3px solid #e8493f"></div>
  <div class="a" style="left:1584px;top:338px;width:14px;height:30px;border-radius:3px 0 0 3px;background:#1565c8"></div>
  <svg class="a" style="left:1587px;top:348px" width="8" height="10" viewBox="0 0 8 10" fill="none" stroke="#fff" stroke-width="1.8"><polyline points="5.5,1.5 2.5,5 5.5,8.5"/></svg>
  <div class="a nt" style="left:219px;top:495px;font-size:13px;color:#444;line-height:16px">Tổng số: <b style="color:#212121">3</b> bản ghi</div>
  <div class="a" style="left:1241px;top:490px;width:188px;height:25px;border:1px solid #c8c8c8;border-radius:2px"></div>
  <div class="a nt" style="left:1251px;top:495px;font-size:13px;color:#333;line-height:16px">50 bản ghi trên 1 trang</div>
  <svg class="a" style="left:1409px;top:499px" width="10" height="7" viewBox="0 0 10 7" fill="#333"><path d="M0.5 0.5 L9.5 0.5 L5 6 Z"/></svg>
  <div class="a nt" style="left:1444px;top:495px;font-size:12.6px;color:#aaa;line-height:16px">Trước</div>
  <div class="a" style="left:1489px;top:493px;width:21px;height:19px;border:1px solid #ddd"></div>
  <div class="a nt" style="left:1489px;width:21px;text-align:center;top:495px;font-size:13px;font-weight:bold;color:#212121;line-height:16px">1</div>
  <div class="a nt" style="left:1522px;top:495px;font-size:12.6px;color:#aaa;line-height:16px">Sau</div>
  <svg class="a" style="left:1300px;top:645px" width="95" height="78" viewBox="0 0 95 78">
    <g fill="none" stroke="#9c9c9c">
      <circle cx="48" cy="39" r="33.6" stroke-width="3.4"/><circle cx="48" cy="39" r="35.6" stroke-width="1.8" stroke-dasharray="2.4 1.8"/>
      <circle cx="48" cy="39" r="28.8" stroke-width="2"/>
      <circle cx="48" cy="39" r="24.2" stroke-width="1.7" stroke-dasharray="0.1 3.7" stroke-linecap="round"/>
      <line x1="37" y1="23" x2="45" y2="23" stroke-width="1"/><line x1="51" y1="23" x2="59" y2="23" stroke-width="1"/>
      <line x1="37" y1="55" x2="45" y2="55" stroke-width="1"/><line x1="51" y1="55" x2="59" y2="55" stroke-width="1"/>
    </g>
    <path d="M48 20.5 L49 22.6 L51 22.8 L49.4 24 L50 26 L48 24.8 L46 26 L46.6 24 L45 22.8 L47 22.6 Z" fill="#9c9c9c"/>
    <path d="M48 57.5 L49 55.4 L51 55.2 L49.4 54 L50 52 L48 53.2 L46 52 L46.6 54 L45 55.2 L47 55.4 Z" fill="#9c9c9c"/>
    <rect x="5" y="29" width="87" height="21" fill="#9b9b9b"/>
    <text x="48" y="44" font-family="Liberation Sans" font-size="12" font-style="italic" fill="#efece4" text-anchor="middle" letter-spacing="-0.3">DỮ LIỆU MẪU</text>
  </svg>
  <div class="a" style="left:185px;top:733px;width:1414px;height:9px;background:#f0f0f0"></div>
  <div class="a" style="left:533px;top:733px;width:1066px;height:9px;background:#b8bcc4"></div>
<div id="bd"></div></div></body></html>
